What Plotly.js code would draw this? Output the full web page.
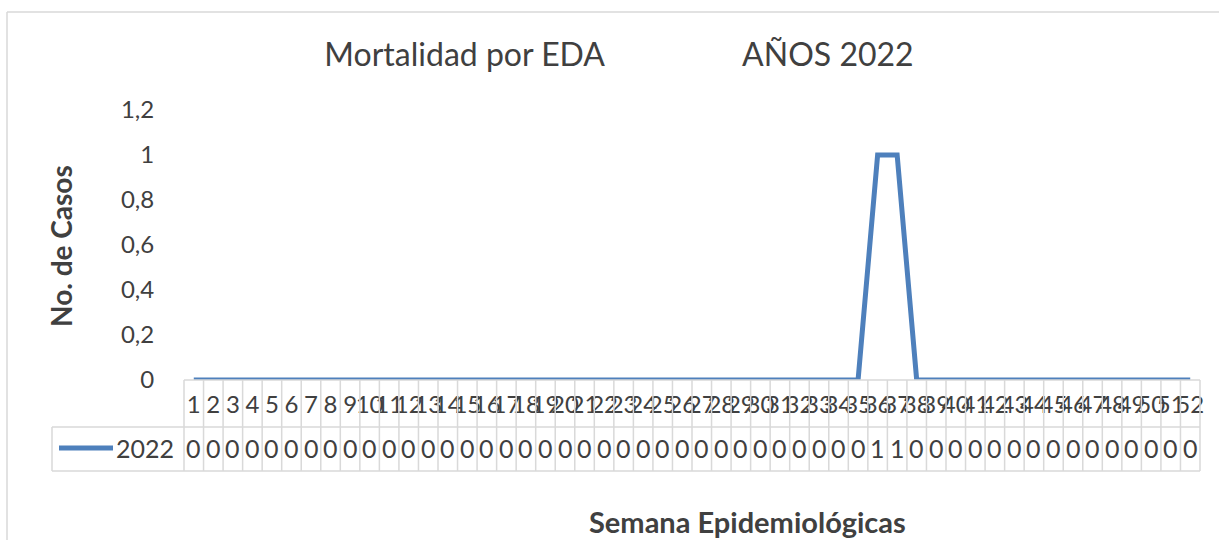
<!DOCTYPE html>
<html>
<head>
<meta charset="utf-8">
<script src="https://cdn.plot.ly/plotly-3.0.1.min.js"></script>
<style>html,body{margin:0;padding:0;background:#fff;}#chart{width:1219px;height:540px;}</style>
</head>
<body>
<div id="chart"></div>
<script>
// ---- data ----
const weeks = ["1","2","3","4","5","6","7","8","9","10","11","12","13","14","15","16","17","18","19","20","21","22","23","24","25","26","27","28","29","30","31","32","33","34","35","36","37","38","39","40","41","42","43","44","45","46","47","48","49","50","51","52"];
const cases2022 = [0,0,0,0,0,0,0,0,0,0,0,0,0,0,0,0,0,0,0,0,0,0,0,0,0,0,0,0,0,0,0,0,0,0,0,1,1,0,0,0,0,0,0,0,0,0,0,0,0,0,0,0];
const seriesName = "2022";
const yTicks = [0,0.2,0.4,0.6,0.8,1,1.2];
const chartTitle = "Mortalidad por EDA\u00a0\u00a0\u00a0\u00a0\u00a0\u00a0\u00a0\u00a0\u00a0\u00a0\u00a0\u00a0\u00a0\u00a0\u00a0\u00a0\u00a0AÑOS 2022";
const yTitle = "No. de Casos";
const xTitle = "Semana Epidemiológicas";

// ---- styling ----
const FONT = "Lato, 'Open Sans', sans-serif";
const TXT = "#404040";
const GRID = "#d9d9d9";
const BLUE = "#4e80bc";

const W = 1219, H = 540;
const mL = 184, mR = 19, mT = 110, mB = 160;
const pw = W - mL - mR, ph = H - mT - mB;
const px2x = p => (p - mL) / pw;
const py2y = p => (H - mB - p) / ph;

const N = weeks.length;
const shapes = [];
const rowSplit = py2y(427), tableBottom = py2y(471), tableLeft = px2x(52);
for (let i = 0; i <= N; i++) {
  shapes.push({type:'line', xref:'paper', yref:'paper', x0:i/N, x1:i/N, y0:0, y1:tableBottom,
    line:{color:GRID, width:1.5}});
}
shapes.push({type:'line', xref:'paper', yref:'paper', x0:tableLeft, x1:1, y0:rowSplit, y1:rowSplit, line:{color:GRID, width:1.5}});
shapes.push({type:'line', xref:'paper', yref:'paper', x0:tableLeft, x1:1, y0:tableBottom, y1:tableBottom, line:{color:GRID, width:1.5}});
shapes.push({type:'line', xref:'paper', yref:'paper', x0:tableLeft, x1:tableLeft, y0:rowSplit, y1:tableBottom, line:{color:GRID, width:1.5}});
shapes.push({type:'line', xref:'paper', yref:'paper', x0:0, x1:1, y0:0, y1:0, line:{color:GRID, width:1.5}});
const keyY = py2y(448);
shapes.push({type:'line', xref:'paper', yref:'paper', x0:px2x(59), x1:px2x(113), y0:keyY, y1:keyY, line:{color:BLUE, width:5}});
shapes.push({type:'line', xref:'paper', yref:'paper', x0:px2x(7), x1:px2x(7), y0:py2y(12), y1:py2y(560), line:{color:GRID, width:1.5}});
shapes.push({type:'line', xref:'paper', yref:'paper', x0:px2x(7), x1:px2x(1240), y0:py2y(12), y1:py2y(12), line:{color:GRID, width:1.5}});

const annotations = [];
weeks.forEach((w, i) => {
  annotations.push({x:i, xref:'x', y:keyY, yref:'paper', text:String(cases2022[i]).replace('.', ','),
    showarrow:false, xanchor:'center', yanchor:'middle', font:{family:FONT, size:25, color:TXT}});
});
annotations.push({x:px2x(176), xref:'paper', y:keyY, yref:'paper', text:seriesName, showarrow:false,
  xanchor:'right', yanchor:'middle', font:{family:FONT, size:25, color:TXT}});
annotations.push({x:px2x(61), xref:'paper', y:py2y(246), yref:'paper', text:'<b>'+yTitle+'</b>', textangle:-90,
  showarrow:false, xanchor:'center', yanchor:'middle', font:{family:FONT, size:28, color:TXT}});
annotations.push({x:px2x(747), xref:'paper', y:py2y(521), yref:'paper', text:'<b>'+xTitle+'</b>',
  showarrow:false, xanchor:'center', yanchor:'middle', font:{family:FONT, size:29, color:TXT}});

const trace = {x:weeks, y:cases2022, type:'scatter', mode:'lines', name:seriesName,
  line:{color:BLUE, width:5}, cliponaxis:false};

const layout = {
  width:W, height:H,
  margin:{l:mL, r:mR, t:mT, b:mB},
  paper_bgcolor:'#fff', plot_bgcolor:'#fff',
  separators:',.',
  showlegend:false,
  title:{text:chartTitle, x:619/W, xanchor:'center', xref:'container', y:1-55/H, yanchor:'middle', yref:'container',
    font:{family:FONT, size:32, color:TXT}},
  xaxis:{type:'category', range:[-0.5, N-0.5], showgrid:false, zeroline:false, showline:false,
    tickmode:'array', tickvals:weeks, ticktext:weeks,
    ticks:'outside', ticklen:3, tickcolor:'rgba(0,0,0,0)', tickangle:0,
    tickfont:{family:FONT, size:24, color:TXT}, fixedrange:true},
  yaxis:{range:[0,1.2], tickvals:yTicks, ticktext:yTicks.map(v => String(v).replace('.', ',')),
    showgrid:false, zeroline:false, showline:false, ticks:'outside', ticklen:24, tickcolor:'rgba(0,0,0,0)',
    tickfont:{family:FONT, size:24, color:TXT}, fixedrange:true},
  shapes:shapes,
  annotations:annotations
};

Plotly.newPlot('chart', [trace], layout, {displayModeBar:false, staticPlot:true});
</script>
</body>
</html>
